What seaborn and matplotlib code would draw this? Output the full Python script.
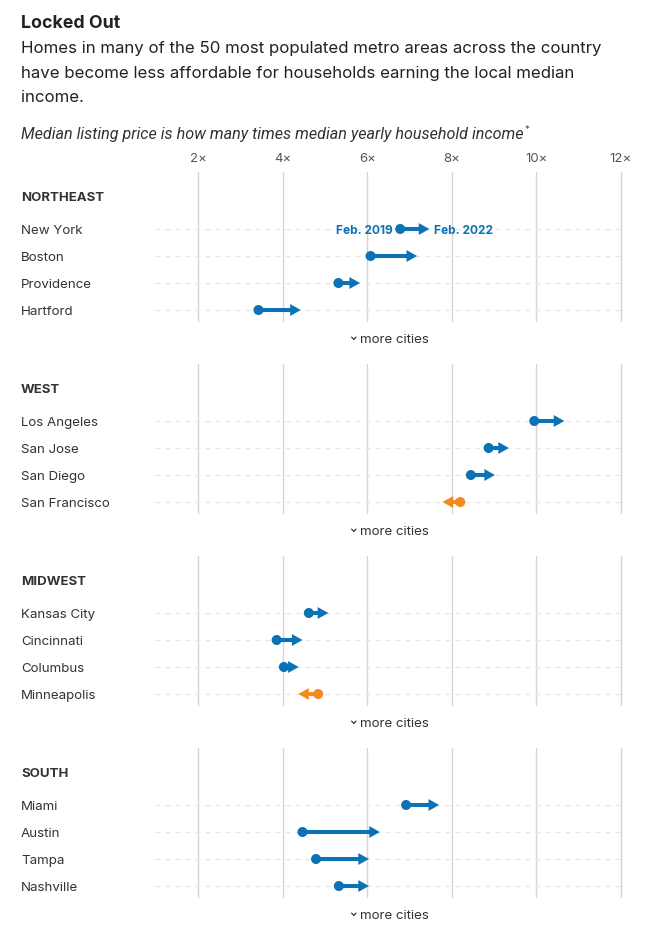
import pandas as pd
import seaborn as sns
import matplotlib.pyplot as plt
import matplotlib.transforms as mtransforms

# Datos (veces el ingreso medio)
REGIONES = ["NORTHEAST", "WEST", "MIDWEST", "SOUTH"]
CIUDADES = [
    ["New York", "Boston", "Providence", "Hartford"],
    ["Los Angeles", "San Jose", "San Diego", "San Francisco"],
    ["Kansas City", "Cincinnati", "Columbus", "Minneapolis"],
    ["Miami", "Austin", "Tampa", "Nashville"],
]
FEB_2019 = [
    [6.78, 6.08, 5.32, 3.43],
    [9.95, 8.87, 8.45, 8.20],
    [4.62, 3.86, 4.03, 4.84],
    [6.92, 4.47, 4.79, 5.33],
]
FEB_2022 = [
    [7.47, 7.18, 5.83, 4.43],
    [10.66, 9.35, 9.02, 7.78],
    [5.08, 4.47, 4.38, 4.37],
    [7.70, 6.30, 6.04, 6.04],
]
TICKS = [2, 4, 6, 8, 10, 12]
TICK_LABELS = ["2×", "4×", "6×", "8×", "10×", "12×"]

AZUL = "#0b72b5"
NARANJA = "#f28a1e"
TEXTO = "#333333"

sns.set_theme(style="white")
plt.rcParams["font.family"] = ["Inter", "DejaVu Sans"]

W, H = 653, 942
fig = plt.figure(figsize=(W / 100, H / 100), dpi=100)

def fy(px):
    return 1 - px / H

# Titulo y subtitulos
fig.text(21 / W, fy(24), "Locked Out", fontsize=12.8, fontweight="bold",
         color="#222222", va="center")
lineas = [
    "Homes in many of the 50 most populated metro areas across the country",
    "have become less affordable for households earning the local median",
    "income.",
]
for i, linea in enumerate(lineas):
    fig.text(21 / W, fy(49 + 24.5 * i), linea, fontsize=12.1,
             color="#222222", va="center")
sub = fig.text(21 / W, fy(135),
               "Median listing price is how many times median yearly household income",
               fontsize=11.6, style="italic", color="#333333", va="center",
               family=["Roboto", "DejaVu Sans"])
fig.canvas.draw()
bb = sub.get_window_extent()
fig.text((bb.x1 + 1) / W, fy(130), "*", fontsize=7, color="#555555",
         va="center", ha="left")

xmin = 2 + (155 - 198) / 42.3
xmax = 2 + (625 - 198) / 42.3
dy = 0.07  # ajuste vertical del texto

for k, region in enumerate(REGIONES):
    top = 172 + 192 * k
    ax = fig.add_axes([155 / W, fy(top + 150), 470 / W, 150 / H])
    df = pd.DataFrame({
        "ciudad": CIUDADES[k],
        "inicio": FEB_2019[k],
        "fin": FEB_2022[k],
        "fila": range(len(CIUDADES[k])),
    })
    df["sube"] = df["fin"] > df["inicio"]

    for t in TICKS:
        ax.axvline(t, color="#d6d6d6", lw=1.0, zorder=0)
    ax.hlines(df["fila"], xmin, 12, colors="#e6e6e6", lw=0.9,
              linestyles=(0, (4, 4)), zorder=0)

    for _, r in df.iterrows():
        col = AZUL if r["sube"] else NARANJA
        ax.arrow(r["inicio"], r["fila"], r["fin"] - r["inicio"], 0,
                 width=0.15, head_width=0.44, head_length=0.25,
                 length_includes_head=True, color=col, lw=0, zorder=2)

    sns.scatterplot(data=df, x="inicio", y="fila", hue="sube",
                    palette={True: AZUL, False: NARANJA}, s=52,
                    edgecolor="none", legend=False, ax=ax, zorder=3)

    ax.set_xlim(xmin, xmax)
    ax.set_ylim(3.444, -2.111)
    ax.set_xlabel("")
    ax.set_ylabel("")
    ax.set_yticks([])
    sns.despine(ax=ax, left=True, bottom=True, top=True, right=True)
    if k == 0:
        ax.xaxis.tick_top()
        ax.set_xticks(TICKS)
        ax.set_xticklabels(TICK_LABELS, fontsize=9.5, color="#555555")
        ax.tick_params(axis="x", length=0, pad=5)
    else:
        ax.set_xticks([])

    trans = mtransforms.blended_transform_factory(fig.transFigure, ax.transData)
    ax.text(21 / W, -1.22 + dy, region, transform=trans, fontsize=9.5,
            fontweight="bold", color=TEXTO, va="center")
    for _, r in df.iterrows():
        ax.text(21 / W, r["fila"] + dy, r["ciudad"], transform=trans, fontsize=9.6,
                color=TEXTO, va="center")
    ax.text(353 / W, 4.04 - 0.06, "⌄", transform=trans, fontsize=10,
            color=TEXTO, va="center", ha="center", clip_on=False,
            family=["DejaVu Sans"])
    ax.text(360 / W, 4.04 + dy, "more cities", transform=trans, fontsize=9.6,
            color=TEXTO, va="center", ha="left", clip_on=False)

    if k == 0:
        ny = df.iloc[0]
        ax.annotate("Feb. 2019", xy=(ny["inicio"], ny["fila"] + dy), xytext=(-5, 0),
                    textcoords="offset points", ha="right", va="center",
                    fontsize=8.6, fontweight="bold", color=AZUL)
        ax.annotate("Feb. 2022", xy=(ny["fin"], ny["fila"] + dy), xytext=(3, 0),
                    textcoords="offset points", ha="left", va="center",
                    fontsize=8.6, fontweight="bold", color=AZUL)

fig.savefig("out.png", dpi=100)
